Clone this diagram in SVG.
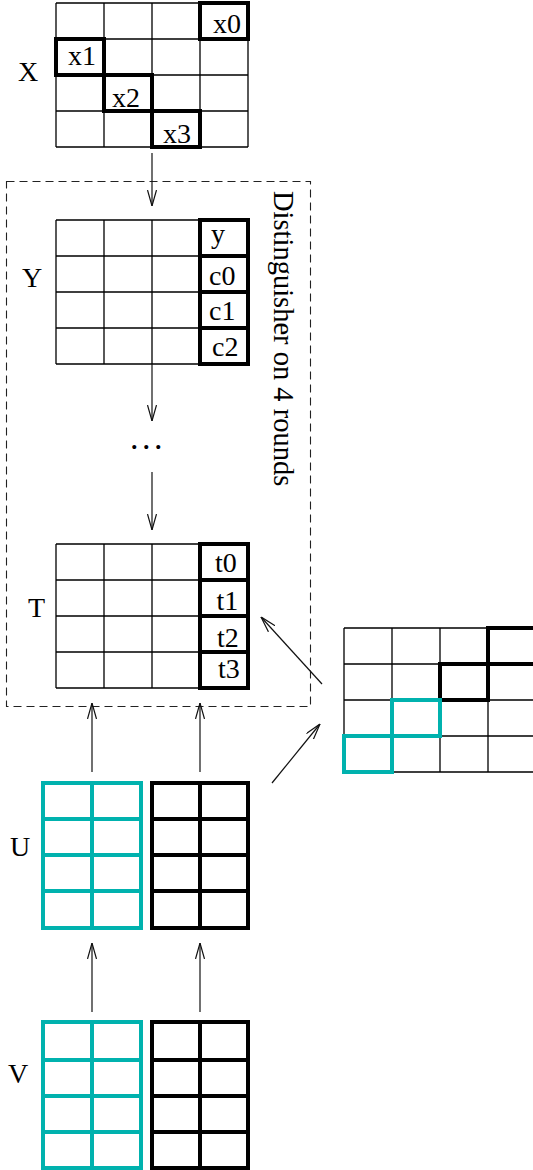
<svg xmlns="http://www.w3.org/2000/svg" width="533" height="1170" viewBox="0 0 533 1170">
<style>
  .thin{fill:none;stroke:#000;stroke-width:1.3}
  .bold{fill:none;stroke:#000;stroke-width:4}
  .teal{fill:none;stroke:#00b2ae;stroke-width:4}
  .lbl{font-family:"Liberation Serif","Times New Roman",serif;font-size:28px;fill:#000}
  .conn{fill:none;stroke:#111;stroke-width:1.2}
  .dash{fill:none;stroke:#222;stroke-width:1.1;stroke-dasharray:8 5}
</style>
<defs>
  <marker id="arr" viewBox="0 0 16 10" refX="16" refY="5" markerWidth="16" markerHeight="10" markerUnits="userSpaceOnUse" orient="auto">
    <path d="M0,0.5 L16,5 L0,9.5" fill="none" stroke="#111" stroke-width="1.2"/>
  </marker>
</defs>
<rect width="533" height="1170" fill="#fff"/>

<g id="distinguisher">
  <rect class="dash" x="6.5" y="181.5" width="304" height="525"/>
  <text class="lbl" transform="translate(274,191) rotate(90)" style="font-size:28.5px">Distinguisher on 4 rounds</text>
</g>

<g id="X">
  <path class="thin" d="M56,3V147M104,3V147M152,3V147M200,3V147M248,3V147M56,3H248M56,39H248M56,75H248M56,111H248M56,147H248"/>
  <text class="lbl" x="18" y="81">X</text>
  <text class="lbl" x="213" y="33">x0</text>
  <text class="lbl" x="68" y="65">x1</text>
  <text class="lbl" x="112" y="107">x2</text>
  <text class="lbl" x="163" y="143">x3</text>
  <rect class="bold" x="200" y="3" width="48" height="36"/>
  <rect class="bold" x="56" y="39" width="48" height="36"/>
  <rect class="bold" x="104" y="75" width="48" height="36"/>
  <rect class="bold" x="152" y="111" width="48" height="36"/>
</g>

<g id="Y">
  <path class="thin" d="M56,220V364M104,220V364M152,220V364M200,220V364M56,220H200M56,256H200M56,292H200M56,328H200M56,364H200"/>
  <text class="lbl" x="22" y="287">Y</text>
  <text class="lbl" x="211" y="243">y</text>
  <text class="lbl" x="209" y="285">c0</text>
  <text class="lbl" x="209" y="320">c1</text>
  <text class="lbl" x="212" y="356">c2</text>
  <rect class="bold" x="200" y="220" width="48" height="36"/>
  <rect class="bold" x="200" y="256" width="48" height="36"/>
  <rect class="bold" x="200" y="292" width="48" height="36"/>
  <rect class="bold" x="200" y="328" width="48" height="36"/>
</g>

<g id="dots">
  <text class="lbl" x="130" y="449" style="font-size:34px;letter-spacing:3.5px">...</text>
</g>

<g id="T">
  <path class="thin" d="M56,544V688M104,544V688M152,544V688M200,544V688M56,544H200M56,580H200M56,616H200M56,652H200M56,688H200"/>
  <text class="lbl" x="28" y="617">T</text>
  <text class="lbl" x="215" y="572">t0</text>
  <text class="lbl" x="216.5" y="610">t1</text>
  <text class="lbl" x="217" y="647">t2</text>
  <text class="lbl" x="218" y="678">t3</text>
  <rect class="bold" x="200" y="544" width="48" height="36"/>
  <rect class="bold" x="200" y="580" width="48" height="36"/>
  <rect class="bold" x="200" y="616" width="48" height="36"/>
  <rect class="bold" x="200" y="652" width="48" height="36"/>
</g>

<g id="W">
  <path class="thin" d="M344,628V772M392,628V772M440,628V772M488,628V772M536,628V772M344,628H540M344,664H540M344,700H540M344,736H540M344,772H540"/>
  <rect class="bold" x="488" y="628" width="48" height="36"/>
  <rect class="bold" x="440" y="664" width="48" height="36"/>
  <rect class="teal" x="392" y="700" width="48" height="36"/>
  <rect class="teal" x="344" y="736" width="48" height="36"/>
</g>

<g id="U">
  <text class="lbl" x="10" y="856">U</text>
  <rect class="teal" x="43" y="783" width="98" height="145"/>
  <path class="teal" d="M92,783V928M43,819H141M43,855H141M43,891H141"/>
  <rect class="bold" x="152" y="783" width="96" height="145"/>
  <path class="bold" d="M200,783V928M152,819H248M152,855H248M152,891H248"/>
</g>

<g id="V">
  <text class="lbl" x="8" y="1083">V</text>
  <rect class="teal" x="43" y="1022" width="98" height="146"/>
  <path class="teal" d="M92,1022V1168M43,1060H141M43,1096H141M43,1132H141"/>
  <rect class="bold" x="152" y="1022" width="96" height="146"/>
  <path class="bold" d="M200,1022V1168M152,1060H248M152,1096H248M152,1132H248"/>
</g>

<g id="connectors">
  <line class="conn" x1="152" y1="153" x2="152" y2="206" marker-end="url(#arr)"/>
  <line class="conn" x1="152" y1="364" x2="152" y2="421" marker-end="url(#arr)"/>
  <line class="conn" x1="152" y1="472" x2="152" y2="530" marker-end="url(#arr)"/>
  <line class="conn" x1="92" y1="772" x2="92" y2="703" marker-end="url(#arr)"/>
  <line class="conn" x1="200" y1="772" x2="200" y2="703" marker-end="url(#arr)"/>
  <line class="conn" x1="92" y1="1012" x2="92" y2="943" marker-end="url(#arr)"/>
  <line class="conn" x1="200" y1="1012" x2="200" y2="943" marker-end="url(#arr)"/>
  <line class="conn" x1="322" y1="684" x2="261" y2="617" marker-end="url(#arr)"/>
  <line class="conn" x1="272" y1="783" x2="320" y2="724" marker-end="url(#arr)"/>
</g>
</svg>
